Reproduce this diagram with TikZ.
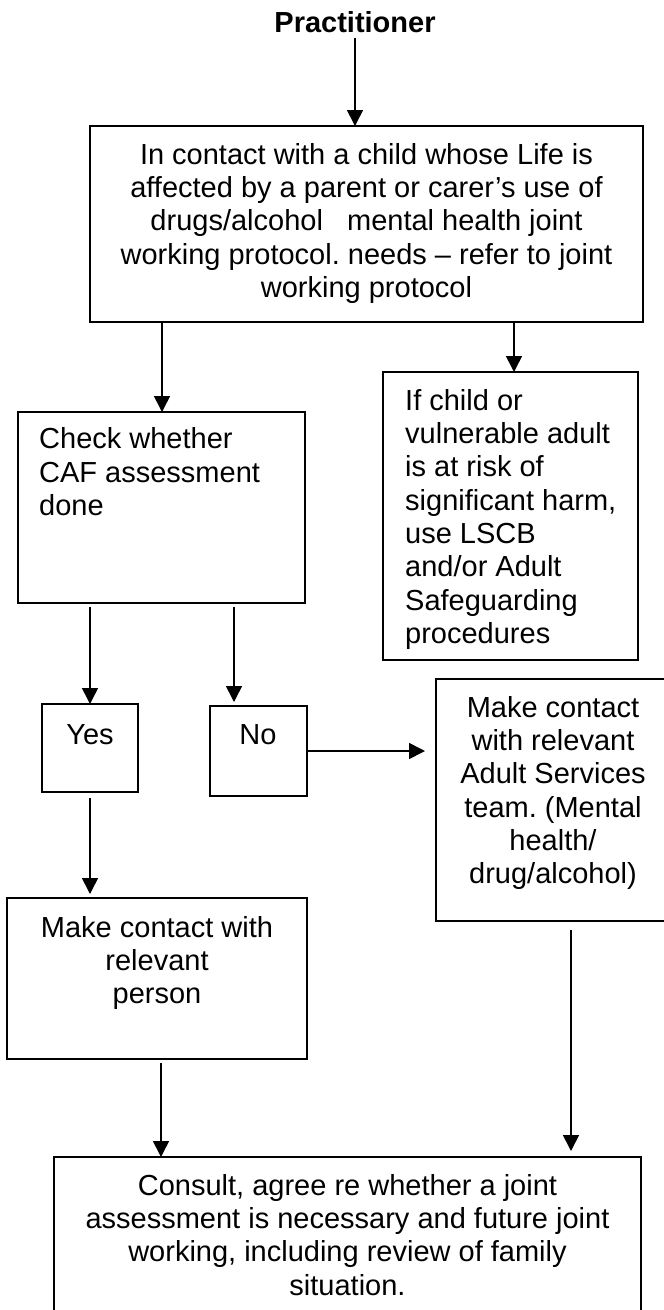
\documentclass[tikz,border=0pt]{standalone}
\usepackage{fontspec}
\setmainfont{Liberation Sans}
\usetikzlibrary{arrows.meta}
\frenchspacing
\begin{document}
\begin{tikzpicture}[x=1pt,y=-1pt,
  box/.style={draw, line width=1.6pt, inner sep=0pt, outer sep=0pt, anchor=north west},
  txt/.style={inner sep=0pt, font=\fontsize{29pt}{33.3pt}\selectfont, align=center, anchor=north},
  ltxt/.style={txt, align=left, anchor=north west},
  arr/.style={line width=1.6pt, -{Triangle[width=16pt,length=16pt]}}]
\useasboundingbox (0,0) rectangle (664,1310);

% boxes
\node[box, minimum width=553pt, minimum height=196pt] (main) at (90,126) {};
\node[box, minimum width=255pt, minimum height=288pt] (safe) at (383,372) {};
\node[box, minimum width=287pt, minimum height=191pt] (caf) at (18,412) {};
\node[box, minimum width=96pt, minimum height=88pt] (yes) at (42,704) {};
\node[box, minimum width=97pt, minimum height=90pt] (no) at (210,706) {};
\node[box, minimum width=234pt, minimum height=242pt] (adult) at (436,679) {};
\node[box, minimum width=300pt, minimum height=161pt] (make) at (7,898) {};
\node[box, minimum width=587pt, minimum height=173pt] (consult) at (54,1157) {};

% texts
\node[inner sep=0pt, font=\bfseries\fontsize{29pt}{33.3pt}\selectfont, anchor=base] (prac) at (355,32) {Practitioner};
\node[txt] (maintxt) at (366.5,140.7) {\strut In contact with a child whose Life is\\affected by a parent or carer’s use of\\drugs/alcohol\ \ \ mental health joint\\working protocol. needs – refer to joint\\working protocol};
\node[ltxt] (safetxt) at (405,386.7) {\strut If child or\\vulnerable adult\\is at risk of\\significant harm,\\use LSCB\\and/or Adult\\Safeguarding\\procedures};
\node[ltxt] (caftxt) at (39,425.2) {\strut Check whether\\CAF assessment\\done};
\node[txt] (yestxt) at (90,720.7) {\strut Yes};
\node[txt] (notxt) at (258,720.7) {\strut No};
\node[txt] (adulttxt) at (553,693.7) {\strut Make contact\\with relevant\\Adult Services\\team. (Mental\\health/\\drug/alcohol)};
\node[txt] (maketxt) at (157,913.7) {\strut Make contact with\\relevant\\person};
\node[txt] (consulttxt) at (347.5,1171.7) {\strut Consult, agree re whether a joint\\assessment is necessary and future joint\\working, including review of family\\situation.};

% connector columns
\coordinate (c1) at (162,0);
\coordinate (c2) at (514,0);
\coordinate (c3) at (90,0);
\coordinate (c4) at (234,0);
\coordinate (c5) at (161,0);
\coordinate (c6) at (571,0);
\coordinate (c7) at (0,751);

% connectors
\draw[arr, shorten <=6pt] (prac.south) -- (prac.south |- main.north);
\draw[arr] (main.south -| c1) -- (caf.north -| c1);
\draw[arr] (main.south -| c2) -- (safe.north -| c2);
\draw[arr, shorten <=4pt] (caf.south -| c3) -- (yes.north -| c3);
\draw[arr, shorten <=4pt, shorten >=4pt] (caf.south -| c4) -- (no.north -| c4);
\draw[arr, shorten <=6pt, shorten >=4pt] (yes.south -| c3) -- (make.north -| c3);
\draw[arr, shorten >=11pt] (no.east |- c7) -- (adult.west |- c7);
\draw[arr, shorten <=4pt] (make.south -| c5) -- (consult.north -| c5);
\draw[arr, shorten <=9pt, shorten >=6pt] (adult.south -| c6) -- (consult.north -| c6);
\end{tikzpicture}
\end{document}
